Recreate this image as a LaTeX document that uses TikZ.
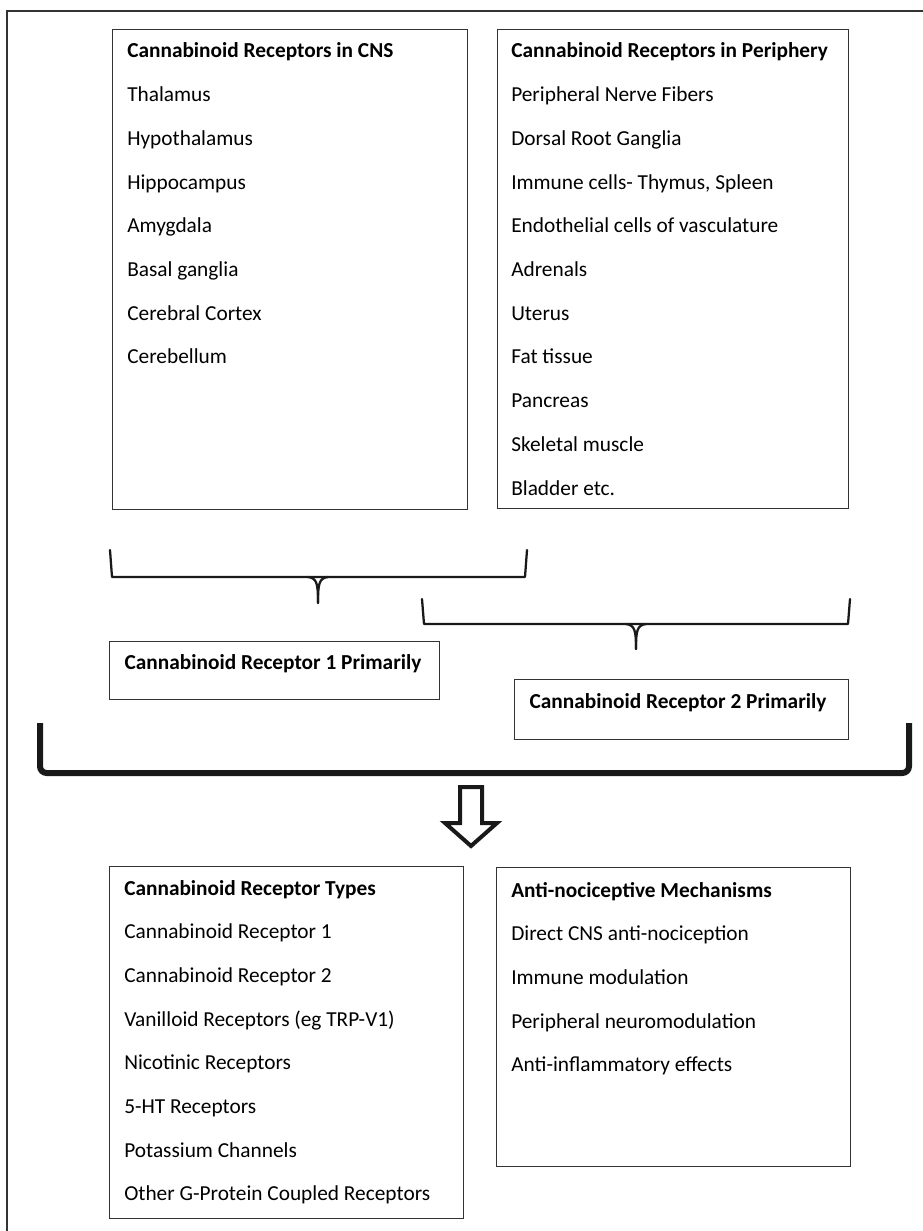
\documentclass[tikz,border=0pt]{standalone}
\usepackage{fontspec}
\setmainfont{Carlito}
\usetikzlibrary{positioning}

\tikzset{
    listbox/.style={draw=black!80, line width=0.9pt, inner sep=0pt, anchor=north west},
    item/.style={anchor=base west, inner sep=0pt, font=\fontsize{16}{19}\selectfont},
    heading/.style={item, font=\fontsize{16}{19}\selectfont\bfseries},
    brace/.style={line width=1.7pt, line cap=round, line join=round, black!90},
}

\begin{document}
\begin{tikzpicture}[x=0.75pt, y=-0.75pt]

    % ==========================================
    % PAGE FRAME
    % ==========================================
    \useasboundingbox (0,0) rectangle (923,1231);
    \draw[line width=0.9pt, black!80] (7,1231) -- (7,11) -- (923,11);

    % Define parameters
    \def\rowgap{43.7}  % Distance between two list lines
    \def\pxu{0.75pt}   % One pixel of the page

    % ==========================================
    % RECEPTOR LOCATIONS (TOP)
    % ==========================================
    \node[listbox, minimum width=355*\pxu, minimum height=480*\pxu] (cns) at (112,29) {};
    \node[listbox, minimum width=351*\pxu, minimum height=479*\pxu] (periphery) at (497,29) {};

    \node[heading] (cns-head) at (127,58) {Cannabinoid Receptors in CNS};
    \foreach \txt [count=\i] in {Thalamus, Hypothalamus, Hippocampus, Amygdala,
        Basal ganglia, Cerebral Cortex, Cerebellum}
        \node[item] (cns-\i) at (127,{58+\rowgap*\i}) {\txt};

    \node[heading] (periphery-head) at (511,58) {Cannabinoid Receptors in Periphery};
    \foreach \txt [count=\i] in {Peripheral Nerve Fibers, Dorsal Root Ganglia,
        {Immune cells- Thymus, Spleen}, Endothelial cells of vasculature, Adrenals,
        Uterus, Fat tissue, Pancreas, Skeletal muscle, Bladder etc.}
        \node[item] (periphery-\i) at (511,{58+\rowgap*\i}) {\txt};

    % ==========================================
    % BRACES AND PRIMARY RECEPTORS
    % ==========================================
    % Left brace, tip points to receptor 1
    \draw[brace] (110,550) -- (112,577) -- (525,577) -- (527,550);
    \draw[brace] (308,577) .. controls (317,578) and (318,584) .. (318,603);
    \draw[brace] (328,577) .. controls (319,578) and (318,584) .. (318,603);

    % Right brace, tip points to receptor 2
    \draw[brace] (422,599) -- (424,624) -- (848,624) -- (850,599);
    \draw[brace] (626,624) .. controls (635,625) and (636,631) .. (636,649);
    \draw[brace] (646,624) .. controls (637,625) and (636,631) .. (636,649);

    \node[listbox, minimum width=330*\pxu, minimum height=58*\pxu] (cr1) at (109,641) {};
    \node[heading, anchor=base] (cr1-text) at (273,669) {Cannabinoid Receptor 1 Primarily};

    \node[listbox, minimum width=334*\pxu, minimum height=60*\pxu] (cr2) at (514,679) {};
    \node[heading, anchor=base] (cr2-text) at (678,708) {Cannabinoid Receptor 2 Primarily};

    % Big bracket that gathers everything above
    \draw[line width=4.5pt, rounded corners=5pt, black!90] (40,723) -- (40,773) -- (909,773) -- (909,723);

    % Hollow block arrow pointing down
    \draw[line width=3pt, line join=miter, black!90]
        (460,787) -- (482,787) -- (482,823) -- (497,823) -- (471,846)
        -- (445,823) -- (460,823) -- cycle;

    % ==========================================
    % RECEPTOR TYPES AND MECHANISMS (BOTTOM)
    % ==========================================
    \node[listbox, minimum width=354*\pxu, minimum height=352*\pxu] (types) at (109,866) {};
    \node[listbox, minimum width=354*\pxu, minimum height=299*\pxu] (mechanisms) at (496,867) {};

    \node[heading] (types-head) at (124,895) {Cannabinoid Receptor Types};
    \foreach \txt [count=\i] in {Cannabinoid Receptor 1, Cannabinoid Receptor 2,
        Vanilloid Receptors (eg TRP-V1), Nicotinic Receptors, 5-HT Receptors,
        Potassium Channels, Other G-Protein Coupled Receptors}
        \node[item] (types-\i) at (124,{895+\rowgap*\i}) {\txt};

    \node[heading] (mechanisms-head) at (511,897) {Anti-nociceptive Mechanisms};
    \foreach \txt [count=\i] in {Direct CNS anti-nociception, Immune modulation,
        Peripheral neuromodulation, Anti-inflammatory effects}
        \node[item] (mechanisms-\i) at (511,{897+\rowgap*\i}) {\txt};

\end{tikzpicture}
\end{document}
